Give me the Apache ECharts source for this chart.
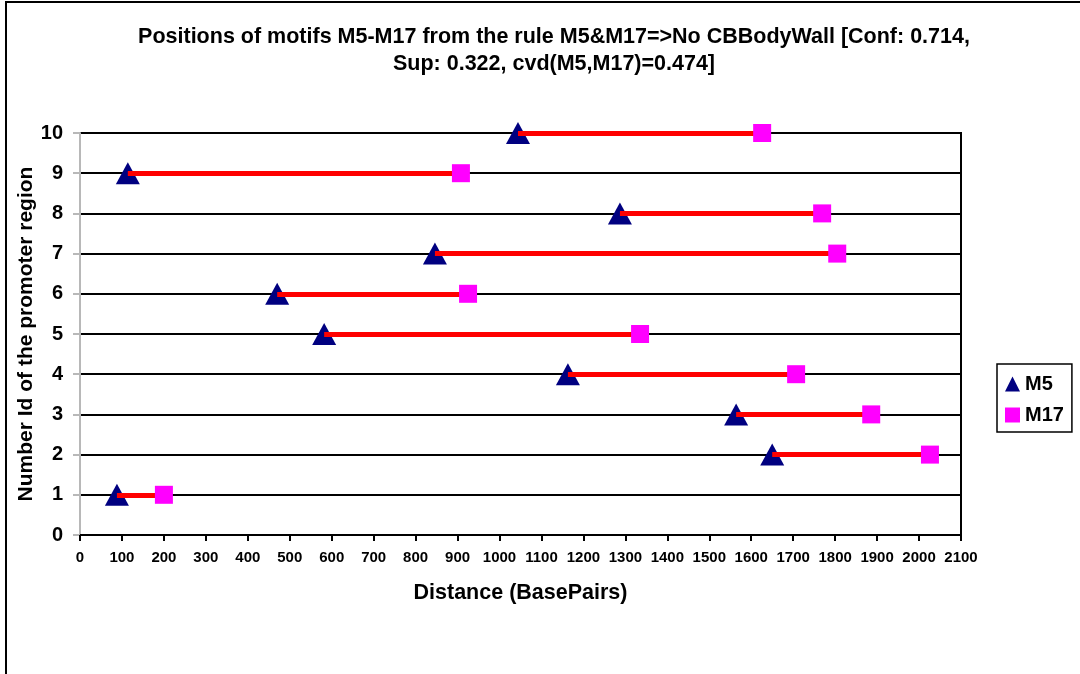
<!DOCTYPE html>
<html>
<head>
<meta charset="utf-8">
<script src="https://cdn.jsdelivr.net/npm/echarts@6/dist/echarts.min.js"></script>
<style>
html,body{margin:0;padding:0;background:#fff;}
#chart{width:1080px;height:674px;}
</style>
</head>
<body>
<div id="chart"></div>
<script>
var promoterIds = [1, 2, 3, 4, 5, 6, 7, 8, 9, 10];
var m5Positions = [88, 1650, 1564, 1163, 582, 470, 846, 1287, 114, 1044];
var m17Positions = [200, 2026, 1886, 1707, 1335, 925, 1805, 1769, 908, 1626];
var titleText = 'Positions of motifs M5-M17 from the rule M5&M17=>No CBBodyWall [Conf: 0.714,\nSup: 0.322, cvd(M5,M17)=0.474]';

var FONT = '"Liberation Sans", Arial, Helvetica, sans-serif';

var m5Data = promoterIds.map(function (id, i) { return [m5Positions[i], id]; });
var m17Data = promoterIds.map(function (id, i) { return [m17Positions[i], id]; });
var linkData = promoterIds.map(function (id, i) {
  return { coords: [[m5Positions[i], id], [m17Positions[i], id]] };
});

var chart = echarts.init(document.getElementById('chart'), null, { renderer: 'canvas' });
chart.setOption({
  backgroundColor: '#ffffff',
  animation: false,
  graphic: [{
    type: 'rect',
    shape: { x: 6, y: 2, width: 1300, height: 900 },
    style: { fill: 'none', stroke: '#000', lineWidth: 2 },
    silent: true, z: -10
  }],
  title: {
    text: titleText,
    left: 549,
    top: 19,
    textAlign: 'center',
    textStyle: { fontFamily: FONT, fontWeight: 'bold', fontSize: 21.5, lineHeight: 27, color: '#000' }
  },
  legend: {
    orient: 'vertical',
    left: 997,
    top: 364,
    padding: [10, 8, 7, 8],
    borderColor: '#000',
    borderWidth: 1.5,
    itemWidth: 15,
    itemHeight: 15,
    itemGap: 11,
    textStyle: { fontFamily: FONT, fontWeight: 'bold', fontSize: 20, lineHeight: 20, color: '#000' },
    data: [
      { name: 'M5', icon: 'triangle' },
      { name: 'M17', icon: 'rect' }
    ]
  },
  grid: {
    left: 80, right: 119, top: 133, bottom: 139,
    containLabel: false, outerBoundsMode: 'none',
    show: true, borderColor: '#000', borderWidth: 2, backgroundColor: 'transparent'
  },
  xAxis: {
    type: 'value', min: 0, max: 2100, interval: 100,
    name: 'Distance (BasePairs)', nameLocation: 'middle', nameGap: 47, nameMoveOverlap: false,
    nameTextStyle: { fontFamily: FONT, fontWeight: 'bold', fontSize: 21.5, color: '#000' },
    axisLine: { show: true, lineStyle: { color: '#000', width: 2 } },
    axisTick: { show: true, length: 6, lineStyle: { color: '#000', width: 2 } },
    axisLabel: { fontFamily: FONT, fontWeight: 'bold', fontSize: 15, color: '#000', margin: 15,
      formatter: function (v) { return String(v); } },
    splitLine: { show: false }
  },
  yAxis: {
    type: 'value', min: 0, max: 10, interval: 1,
    name: 'Number Id of the promoter region', nameLocation: 'middle', nameGap: 43, nameMoveOverlap: false,
    nameTextStyle: { fontFamily: FONT, fontWeight: 'bold', fontSize: 21, color: '#000' },
    axisLine: { show: true, lineStyle: { color: '#b8b8b8', width: 2 } },
    axisTick: { show: true, length: 7, lineStyle: { color: '#b8b8b8', width: 2 } },
    axisLabel: { fontFamily: FONT, fontWeight: 'bold', fontSize: 20, color: '#000', margin: 17 },
    splitLine: { show: true, lineStyle: { color: '#000', width: 2 } }
  },
  series: [
    {
      name: 'M5', type: 'scatter', data: m5Data,
      symbol: 'triangle', symbolSize: [24, 22],
      itemStyle: { color: '#000080', opacity: 1 }, z: 3
    },
    {
      name: 'link', type: 'lines', coordinateSystem: 'cartesian2d', data: linkData,
      lineStyle: { color: '#ff0000', width: 5, opacity: 1 }, symbol: 'none', z: 4, silent: true
    },
    {
      name: 'M17', type: 'scatter', data: m17Data,
      symbol: 'rect', symbolSize: 18,
      itemStyle: { color: '#ff00ff', opacity: 1 }, z: 5
    }
  ]
});
</script>
</body>
</html>
